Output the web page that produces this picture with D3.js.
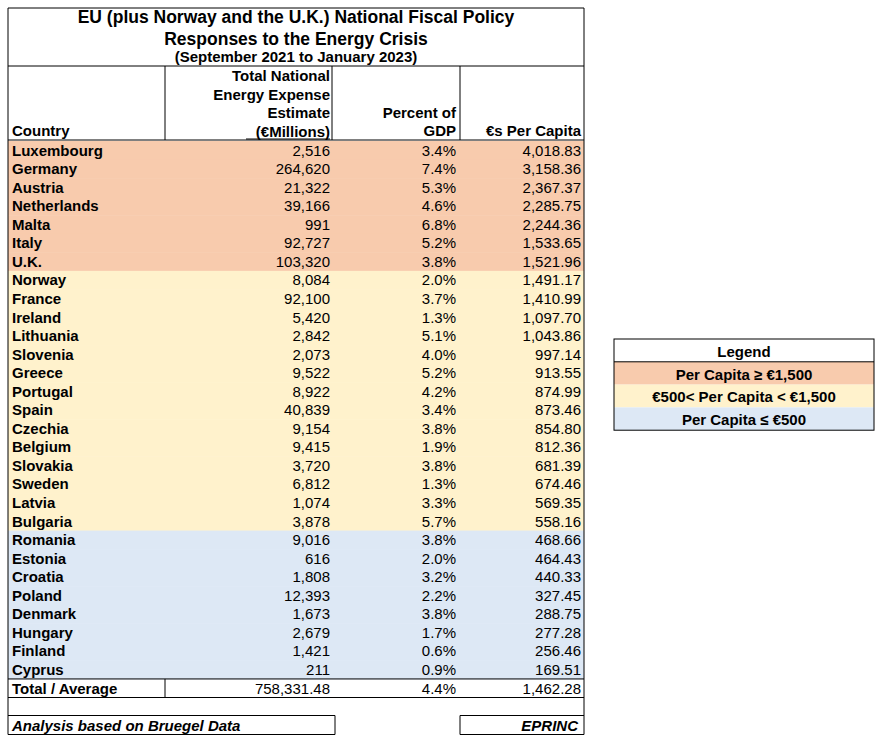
<!DOCTYPE html>
<html><head><meta charset="utf-8">
<script src="https://cdn.jsdelivr.net/npm/d3@7"></script>
<style>body{margin:0;background:#fff}text{font-family:"Liberation Sans",Arial,sans-serif}</style>
</head><body><svg id="chart"></svg>
<script>
// table data
let countries = ['Luxembourg','Germany','Austria','Netherlands','Malta','Italy','U.K.','Norway','France','Ireland','Lithuania','Slovenia','Greece','Portugal','Spain','Czechia','Belgium','Slovakia','Sweden','Latvia','Bulgaria','Romania','Estonia','Croatia','Poland','Denmark','Hungary','Finland','Cyprus'];
let expense = ['2,516','264,620','21,322','39,166','991','92,727','103,320','8,084','92,100','5,420','2,842','2,073','9,522','8,922','40,839','9,154','9,415','3,720','6,812','1,074','3,878','9,016','616','1,808','12,393','1,673','2,679','1,421','211'];
let gdp = ['3.4%','7.4%','5.3%','4.6%','6.8%','5.2%','3.8%','2.0%','3.7%','1.3%','5.1%','4.0%','5.2%','4.2%','3.4%','3.8%','1.9%','3.8%','1.3%','3.3%','5.7%','3.8%','2.0%','3.2%','2.2%','3.8%','1.7%','0.6%','0.9%'];
let perCapita = [4018.83,3158.36,2367.37,2285.75,2244.36,1533.65,1521.96,1491.17,1410.99,1097.70,1043.86,997.14,913.55,874.99,873.46,854.80,812.36,681.39,674.46,569.35,558.16,468.66,464.43,440.33,327.45,288.75,277.28,256.46,169.51];
let totals = ['Total / Average','758,331.48','4.4%','1,462.28'];
let legendLabels = ['Per Capita ≥ €1,500','€500< Per Capita < €1,500','Per Capita ≤ €500'];
let bandColors = ['#f8cbad','#fff2cc','#dde8f5'];

let W = 882, H = 743;
let svg = d3.select('#chart').attr('width', W).attr('height', H);

let colEdges = [8,165,332,460,584];
let topY = 141, rowH = 18.55;
let y = d3.scaleLinear().domain([0, countries.length]).range([topY, topY + rowH * countries.length]);
let fmt = d3.format(',.2f');
let band = v => v >= 1500 ? bandColors[0] : v > 500 ? bandColors[1] : bandColors[2];

// rows background
svg.selectAll('rect.row').data(perCapita).enter().append('rect')
  .attr('x', colEdges[0]).attr('width', colEdges[4]-colEdges[0])
  .attr('y', (d,i) => y(i)).attr('height', rowH+0.5)
  .attr('fill', d => band(d));

let rows = svg.selectAll('g.r').data(countries).enter().append('g')
  .attr('transform', (d,i) => `translate(0,${y(i)+rowH-4})`)
  .style('font-size','15px');
rows.append('text').attr('x', 12).attr('font-weight','bold').text(d => d);
rows.append('text').attr('x', 330).attr('text-anchor','end').text((d,i) => expense[i]);
rows.append('text').attr('x', 456).attr('text-anchor','end').text((d,i) => gdp[i]);
rows.append('text').attr('x', 581).attr('text-anchor','end').text((d,i) => fmt(perCapita[i]));

let line = (x1,y1,x2,y2,w) => svg.append('line').attr('x1',x1).attr('y1',y1).attr('x2',x2).attr('y2',y2)
  .attr('stroke','#000').attr('stroke-width', w||1);

let yEnd = y(countries.length);
// title
let title = svg.append('g').attr('font-weight','bold').attr('text-anchor','middle');
title.append('text').attr('x',296).attr('y',23).style('font-size','17.5px').text('EU (plus Norway and the U.K.) National Fiscal Policy');
title.append('text').attr('x',296).attr('y',45).style('font-size','17.5px').text('Responses to the Energy Crisis');
title.append('text').attr('x',296).attr('y',62).style('font-size','15px').text('(September 2021 to January 2023)');

// headers
let hdr = svg.append('g').attr('font-weight','bold').style('font-size','15px');
hdr.append('text').attr('x',12).attr('y',136).text('Country');
['Total National','Energy Expense','Estimate','(€Millions)'].forEach((t,i) =>
  hdr.append('text').attr('x',330).attr('y',81+i*18.5).attr('text-anchor','end').text(t));
hdr.append('text').attr('x',456).attr('y',118).attr('text-anchor','end').text('Percent of');
hdr.append('text').attr('x',456).attr('y',136).attr('text-anchor','end').text('GDP');
hdr.append('text').attr('x',581).attr('y',136).attr('text-anchor','end').text('€s Per Capita');
line(246,139,330,139);

// totals row
let tr = svg.append('g').style('font-size','15px');
let tY = yEnd + rowH - 4;
tr.append('text').attr('x',12).attr('y',tY).attr('font-weight','bold').text(totals[0]);
tr.append('text').attr('x',330).attr('y',tY).attr('text-anchor','end').text(totals[1]);
tr.append('text').attr('x',456).attr('y',tY).attr('text-anchor','end').text(totals[2]);
tr.append('text').attr('x',581).attr('y',tY).attr('text-anchor','end').text(totals[3]);

let fY1 = yEnd + rowH, fY2 = fY1 + 18, fY3 = fY2 + 19;
let ft = svg.append('g').style('font-size','15px').attr('font-weight','bold').attr('font-style','italic');
ft.append('text').attr('x',12).attr('y',fY3-4).text('Analysis based on Bruegel Data');
ft.append('text').attr('x',578).attr('y',fY3-4).attr('text-anchor','end').text('EPRINC');

// borders
line(8,8,584,8); line(8,8,8,fY3); line(584,8,584,fY3);
line(8,66,584,66);
[165,332,460].forEach(x => line(x,66,x,140));
line(8,140,584,140);
line(8,yEnd,584,yEnd);
line(165,yEnd,165,fY1);
line(8,fY1,584,fY1);
line(8,fY2,335,fY2); line(460,fY2,584,fY2);
line(335,fY2,335,fY3); line(460,fY2,460,fY3);
line(8,fY3,335,fY3); line(460,fY3,584,fY3);

// legend
let lg = svg.append('g').attr('transform','translate(614,339)').attr('font-weight','bold').style('font-size','15px');
let lh = 22.8;
lg.selectAll('rect').data(bandColors).enter().append('rect')
  .attr('x',0).attr('y',(d,i)=>lh*(i+1)).attr('width',260).attr('height',lh).attr('fill',d=>d);
lg.append('rect').attr('width',260).attr('height',lh*4).attr('fill','none').attr('stroke','#000');
lg.append('line').attr('x1',0).attr('x2',260).attr('y1',lh).attr('y2',lh).attr('stroke','#000');
lg.append('text').attr('x',130).attr('y',lh-5).attr('text-anchor','middle').text('Legend');
lg.selectAll('text.l').data(legendLabels).enter().append('text')
  .attr('x',130).attr('y',(d,i)=>lh*(i+2)-5).attr('text-anchor','middle').text(d=>d);
</script></body></html>
